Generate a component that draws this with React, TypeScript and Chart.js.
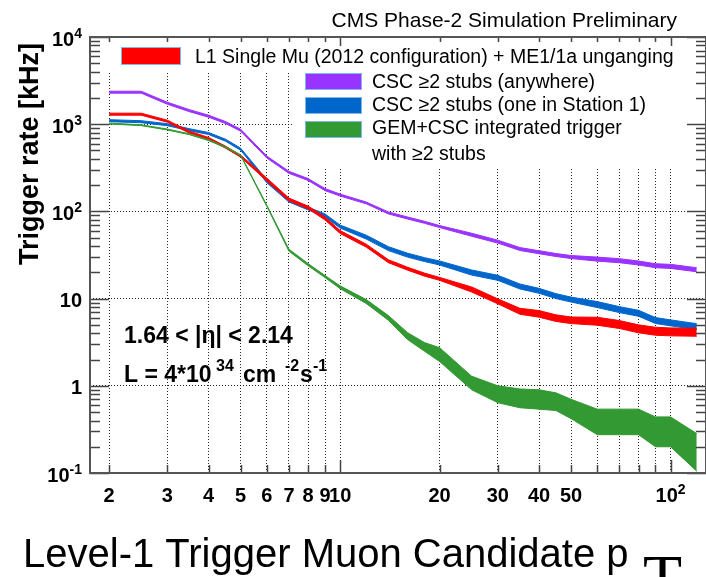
import React, { useEffect, useRef } from "react";
import { Chart, registerables } from "chart.js";

Chart.register(...registerables);

// ---------- data ----------
const ptBins = [2, 2.5, 3, 3.5, 4, 4.5, 5, 6, 7, 8, 9, 10, 12, 14, 16, 18, 20, 25, 30, 35, 40, 45, 50, 60, 70, 80, 90, 100, 120];

const purpleUpper = [2390, 2390, 1787, 1469, 1268, 1073, 876, 431, 288, 238, 183, 158, 128, 98.6, 86.3, 77, 68.8, 56.2, 46.8, 38.5, 35.4, 32.9, 31.2, 29.9, 28.7, 27.0, 25.1, 24.7, 22.6];
const purpleLower = [2270, 2270, 1694, 1392, 1202, 1018, 831, 409, 273, 226, 173, 150, 122, 93.5, 81.7, 73, 65.2, 51.9, 43.3, 35.6, 32.7, 30.4, 28.8, 26.9, 25.8, 24.3, 22.6, 22.2, 20.3];

const blueUpper = [1127, 1097, 1014, 888, 803, 673, 531, 231, 138, 112, 93.6, 69.7, 53.4, 39.4, 33.2, 29.5, 27.0, 21.3, 18.5, 14.7, 13.1, 11.4, 10.4, 9.24, 8.09, 7.34, 6.06, 5.70, 5.16];
const blueLower = [1068, 1040, 961, 842, 761, 638, 503, 213, 128, 104, 86.5, 64.4, 48.1, 35.5, 29.9, 26.6, 24.3, 18.6, 16.2, 12.9, 11.5, 10.0, 9.13, 7.89, 6.91, 6.27, 5.18, 4.87, 4.41];

const redUpper = [1338, 1338, 1112, 832, 705, 560, 442, 241, 142, 115, 86.3, 60.3, 42.1, 27.9, 22.9, 19.6, 17.5, 13.6, 9.93, 7.74, 7.29, 6.51, 6.15, 6.11, 5.60, 5.00, 4.69, 4.61, 4.57];
const redLower = [1269, 1269, 1055, 789, 668, 531, 419, 223, 132, 107, 79.8, 55.8, 38.9, 25.8, 21.2, 18.1, 16.2, 11.9, 8.71, 6.61, 6.12, 5.47, 5.17, 4.95, 4.54, 4.05, 3.80, 3.74, 3.70];

const greenUpper = [1030, 985, 880, 776, 664, 552, 445, 118, 36.9, 25.2, 18.4, 14.0, 9.74, 6.38, 4.07, 3.13, 2.74, 1.29, 1.0, 0.92, 0.90, 0.83, 0.70, 0.54, 0.54, 0.54, 0.44, 0.44, 0.283];
const greenLower = [1005, 963, 858, 758, 648, 538, 435, 114, 35.0, 23.8, 17.4, 13.0, 8.77, 5.64, 3.39, 2.49, 1.9, 0.90, 0.64, 0.56, 0.54, 0.52, 0.42, 0.275, 0.275, 0.275, 0.20, 0.20, 0.105];

const legendLabels = [
  "L1 Single Mu (2012 configuration) + ME1/1a unganging",
  "CSC \u22652 stubs (anywhere)",
  "CSC \u22652 stubs (one in Station 1)",
  "GEM+CSC integrated trigger",
];
const legendExtraLine = "with \u22652 stubs";

const xGridValues = [2, 3, 4, 5, 6, 7, 8, 9, 10, 20, 30, 40, 50, 60, 70, 80, 90, 100];
const xLabelValues = [2, 3, 4, 5, 6, 7, 8, 9, 10, 20, 30, 40, 50, 100];
const xLabelTexts = ["2", "3", "4", "5", "6", "7", "8", "9", "10", "20", "30", "40", "50", "10"];
const xLabelSups = ["", "", "", "", "", "", "", "", "", "", "", "", "", "2"];

const yDecades = [0.1, 1, 10, 100, 1000, 10000];
const yLabelTexts = ["10", "1", "10", "10", "10", "10"];
const yLabelSups = ["-1", "", "", "2", "3", "4"];
const minorMultipliers = [2, 3, 4, 5, 6, 7, 8, 9];

const titleText = "CMS Phase-2 Simulation Preliminary";
const yTitle = "Trigger rate [kHz]";
const xTitle = "Level-1 Trigger Muon Candidate p";
const xTitleSub = "T";
const etaText = "1.64 < |\u03b7| < 2.14";

const RED = "#ff0000";
const PURPLE = "#9933ff";
const BLUE = "#0066cc";
const GREEN = "#339933";
const FONT = "'Liberation Sans', Arial, Helvetica, sans-serif";

const decorPlugin = {
  id: "decor",
  beforeDatasetsDraw(chart: any) {
    const ctx = chart.ctx;
    const { left, right, top } = chart.chartArea;
    ctx.save();
    // legend background (hides grid)
    ctx.fillStyle = "#ffffff";
    ctx.fillRect(left + 1, top + 1, right - left - 1, 33);
    ctx.fillRect(292, 70, right - 292, 97);

    // legend boxes
    const boxes = [
      { x: 121, y: 47, w: 60, h: 18, c: RED },
      { x: 305, y: 73, w: 57, h: 17, c: PURPLE },
      { x: 305, y: 97, w: 57, h: 17, c: BLUE },
      { x: 305, y: 121, w: 57, h: 17, c: GREEN },
    ];
    boxes.forEach((b) => {
      ctx.fillStyle = b.c;
      ctx.fillRect(b.x, b.y, b.w, b.h);
      ctx.strokeStyle = "#7cb9e8";
      ctx.lineWidth = 1;
      ctx.strokeRect(b.x + 0.5, b.y + 0.5, b.w - 1, b.h - 1);
    });
    ctx.fillStyle = "#000";
    ctx.font = `19.5px ${FONT}`;
    ctx.textAlign = "left";
    ctx.textBaseline = "alphabetic";
    ctx.fillText(legendLabels[0], 195, 63);
    ctx.fillText(legendLabels[1], 372, 88);
    ctx.fillText(legendLabels[2], 372, 111);
    ctx.fillText(legendLabels[3], 372, 134);
    ctx.fillText(legendExtraLine, 372, 160);
    ctx.restore();
  },
  afterDraw(chart: any) {
    const ctx = chart.ctx;
    const { left, right, top, bottom } = chart.chartArea;
    const xs = chart.scales.x;
    const ys = chart.scales.y;
    ctx.save();

    // ticks
    ctx.strokeStyle = "#444";
    ctx.lineWidth = 1.5;
    ctx.beginPath();
    yDecades.forEach((d, i) => {
      const y = Math.round(ys.getPixelForValue(d)) + 0.5;
      ctx.moveTo(left, y); ctx.lineTo(left + 19, y);
      ctx.moveTo(right, y); ctx.lineTo(right - 19, y);
      if (i < yDecades.length - 1) {
        minorMultipliers.forEach((m) => {
          const yy = Math.round(ys.getPixelForValue(m * d)) + 0.5;
          ctx.moveTo(left, yy); ctx.lineTo(left + 10, yy);
          ctx.moveTo(right, yy); ctx.lineTo(right - 10, yy);
        });
      }
    });
    xGridValues.forEach((v) => {
      const x = Math.round(xs.getPixelForValue(v)) + 0.5;
      const major = v === 10 || v === 100;
      ctx.moveTo(x, bottom); ctx.lineTo(x, bottom - (major ? 13 : 8));
      ctx.moveTo(x, top); ctx.lineTo(x, top + (major ? 9 : 5));
    });
    ctx.stroke();

    // frame
    ctx.strokeStyle = "#555";
    ctx.lineWidth = 2;
    ctx.strokeRect(left, top, right - left, bottom - top);

    ctx.fillStyle = "#000";
    ctx.textBaseline = "alphabetic";

    // y tick labels
    const yBase = `bold 20px ${FONT}`;
    const ySup = `bold 14px ${FONT}`;
    yDecades.forEach((d, i) => {
      const y = ys.getPixelForValue(d);
      ctx.font = ySup;
      const sw = yLabelSups[i] ? ctx.measureText(yLabelSups[i]).width : 0;
      ctx.font = yBase;
      const bw = ctx.measureText(yLabelTexts[i]).width;
      const x0 = 82 - sw - bw;
      ctx.textAlign = "left";
      ctx.fillText(yLabelTexts[i], x0, y + 8.5);
      if (yLabelSups[i]) {
        ctx.font = ySup;
        ctx.fillText(yLabelSups[i], x0 + bw, y + 0.5);
      }
    });

    // x tick labels
    const xBase = `bold 20px ${FONT}`;
    const xSup = `bold 14px ${FONT}`;
    xLabelValues.forEach((v, i) => {
      const x = xs.getPixelForValue(v);
      ctx.font = xSup;
      const sw = xLabelSups[i] ? ctx.measureText(xLabelSups[i]).width : 0;
      ctx.font = xBase;
      const bw = ctx.measureText(xLabelTexts[i]).width;
      const x0 = x - (sw + bw) / 2;
      ctx.textAlign = "left";
      ctx.fillText(xLabelTexts[i], x0, 502);
      if (xLabelSups[i]) {
        ctx.font = xSup;
        ctx.fillText(xLabelSups[i], x0 + bw, 494);
      }
    });

    // title
    ctx.font = `21px ${FONT}`;
    ctx.textAlign = "right";
    ctx.fillText(titleText, 677, 27);

    // y title
    ctx.save();
    ctx.translate(37.5, 154);
    ctx.rotate(-Math.PI / 2);
    ctx.font = `bold 27px ${FONT}`;
    ctx.textAlign = "center";
    ctx.fillText(yTitle, 0, 0);
    ctx.restore();

    // x title
    ctx.font = `40px ${FONT}`;
    ctx.textAlign = "left";
    ctx.fillText(xTitle, 23, 567);
    ctx.font = `64px 'Liberation Serif', 'Times New Roman', serif`;
    ctx.fillText(xTitleSub, 643, 599);

    // annotations
    ctx.font = `bold 23px ${FONT}`;
    ctx.fillText(etaText, 124, 343);
    ctx.fillText("L = 4*10", 124, 381.5);
    ctx.fillText("cm", 243, 381.5);
    ctx.fillText("s", 300, 381.5);
    ctx.font = `bold 16px ${FONT}`;
    ctx.fillText("34", 216, 371);
    ctx.fillText("-2", 285, 371);
    ctx.fillText("-1", 313, 371);

    ctx.restore();
  },
};

export default function App() {
  const ref = useRef<HTMLCanvasElement>(null);
  useEffect(() => {
    document.body.style.margin = "0";
    const canvas = ref.current!;
    const mk = (arr: number[]) => ptBins.map((x, i) => ({ x, y: arr[i] }));
    const band = (label: string, upper: number[], lower: number[], color: string) => [
      { label, data: mk(upper), borderColor: color, backgroundColor: color, borderWidth: 1, pointRadius: 0, fill: "+1", tension: 0 },
      { label: label + " (low)", data: mk(lower), borderColor: color, backgroundColor: color, borderWidth: 1, pointRadius: 0, fill: false, tension: 0 },
    ];
    const chart = new Chart(canvas, {
      type: "line",
      data: {
        datasets: [
          ...band(legendLabels[3], greenUpper, greenLower, GREEN),
          ...band(legendLabels[0], redUpper, redLower, RED),
          ...band(legendLabels[2], blueUpper, blueLower, BLUE),
          ...band(legendLabels[1], purpleUpper, purpleLower, PURPLE),
        ] as any,
      },
      options: {
        animation: false,
        responsive: false,
        devicePixelRatio: 1,
        layout: { padding: { top: 37, left: 0, right: 0, bottom: 0 } },
        plugins: { legend: { display: false }, tooltip: { enabled: false } },
        scales: {
          x: {
            type: "logarithmic",
            position: "bottom",
            min: 1.75,
            max: 128,
            bounds: "data",
            afterBuildTicks: (s: any) => { s.ticks = xGridValues.map((v) => ({ value: v })); },
            afterFit: (s: any) => { s.height = 104; },
            ticks: { display: false },
            grid: { color: "rgba(0,0,0,0.85)", lineWidth: 1, drawTicks: false },
            border: { display: false, dash: [1, 2] },
          },
          y: {
            type: "logarithmic",
            position: "left",
            min: 0.1,
            max: 10000,
            bounds: "data",
            afterBuildTicks: (s: any) => { s.ticks = yDecades.map((v) => ({ value: v })); },
            afterFit: (s: any) => { s.width = 90; },
            ticks: { display: false },
            grid: { color: "rgba(0,0,0,0.85)", lineWidth: 1, drawTicks: false },
            border: { display: false, dash: [1, 2] },
          },
        },
      } as any,
      plugins: [decorPlugin],
    });
    return () => chart.destroy();
  }, []);
  return <canvas ref={ref} width={706} height={577} style={{ display: "block" }} />;
}
